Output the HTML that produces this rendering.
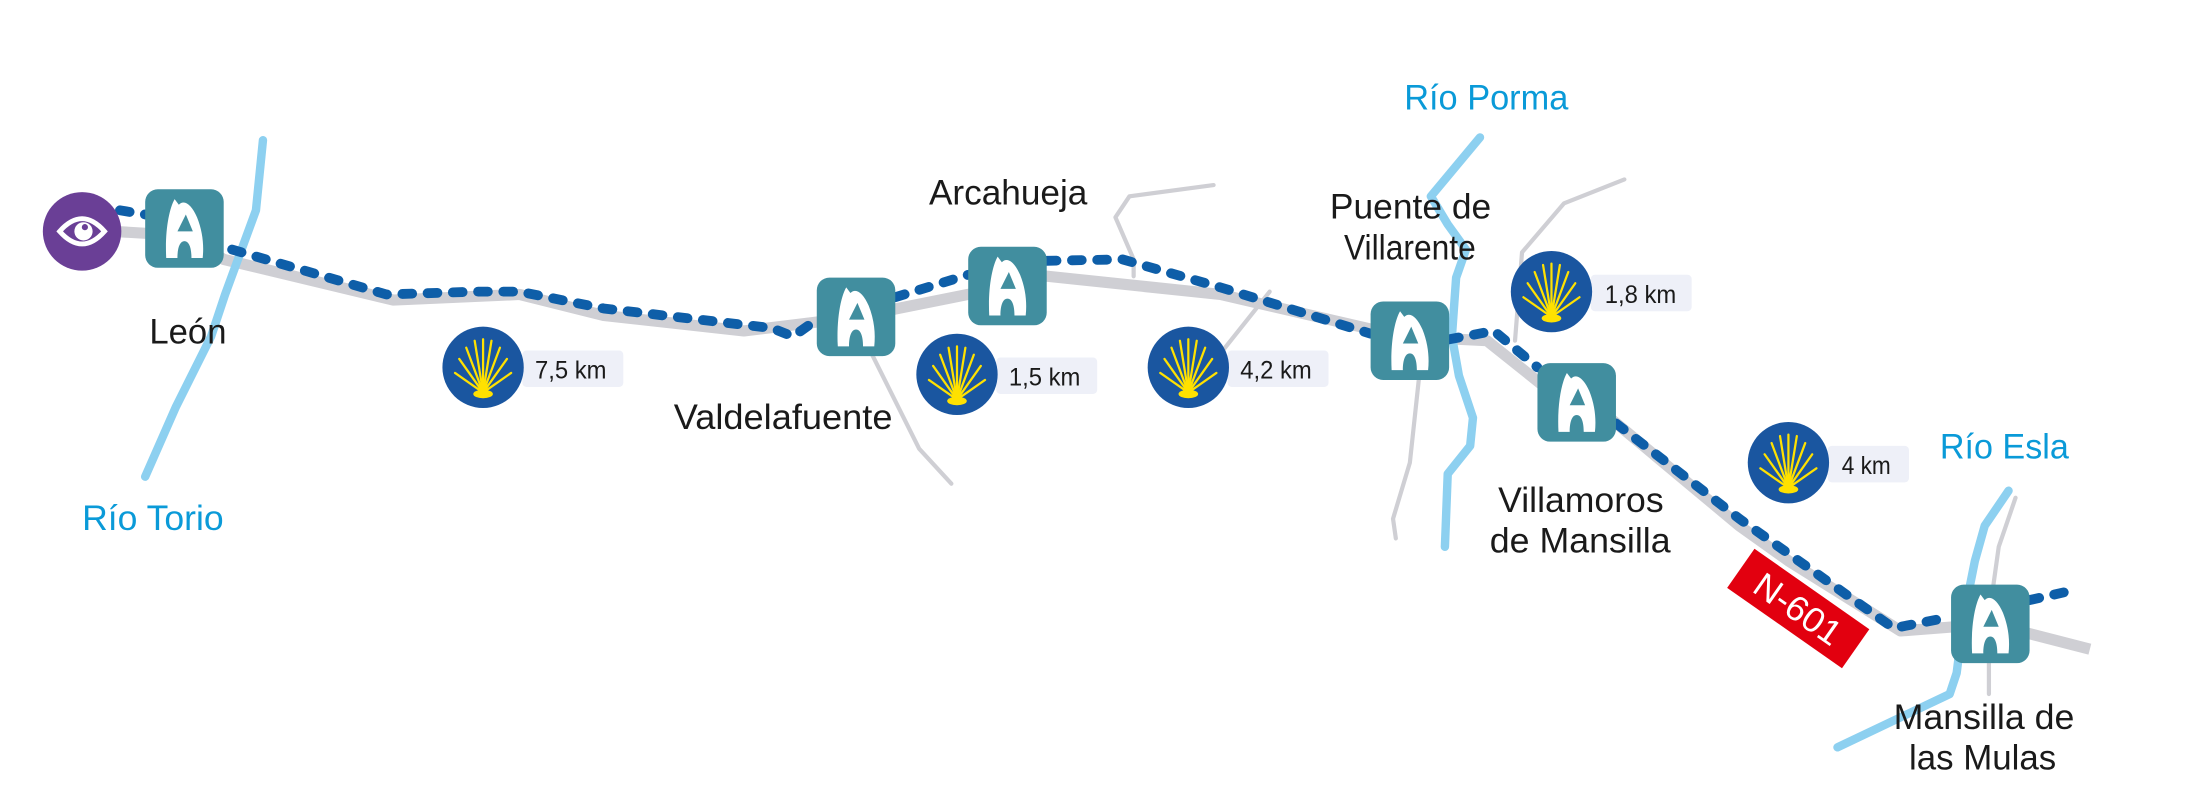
<!DOCTYPE html>
<html><head><meta charset="utf-8"><style>
html,body{margin:0;padding:0;background:#fff;width:2200px;height:809px;overflow:hidden}
svg{display:block}
text{font-family:"Liberation Sans Narrow","Liberation Sans",sans-serif}
</style></head><body>
<svg width="2200" height="809" viewBox="0 0 1568 577" xmlns="http://www.w3.org/2000/svg">
<defs>
<g id="shell">
<circle r="29" fill="#1a56a0"/>
<g stroke="#ffe100" stroke-width="1.6" fill="none" stroke-linecap="round">
<line x1="0" y1="18" x2="0" y2="-20"/>
<line x1="0" y1="18" x2="-6" y2="-19"/>
<line x1="0" y1="18" x2="6" y2="-19"/>
<line x1="0" y1="18" x2="-12" y2="-14"/>
<line x1="0" y1="18" x2="12" y2="-14"/>
<line x1="0" y1="18" x2="-17" y2="-6"/>
<line x1="0" y1="18" x2="17" y2="-6"/>
<line x1="0" y1="18" x2="-20" y2="4"/>
<line x1="0" y1="18" x2="20" y2="4"/>
</g>
<ellipse cx="0" cy="19" rx="7" ry="3" fill="#ffe100"/>
</g>
<g id="hut">
<rect x="-28" y="-28" width="56" height="56" rx="9" fill="#418e9f"/>
<path d="M-13,21 C-14,2 -11,-14 -7,-21 L-4,-17 C0,-21 5,-17 9,-8 C13,2 14,12 13,21 L5,21 C5,13 3,9 0,9 C-3,9 -5,13 -5,21 Z" fill="#fff"/>
<path d="M-5,2 L1,-10 L6,2 Z" fill="#418e9f"/>
</g>
</defs>

<!-- minor roads -->
<g stroke="#cfcfd4" stroke-width="3" fill="none" stroke-linecap="round" stroke-linejoin="round">
<polyline points="620,250 655,320 678,345"/>
<polyline points="808,197 808,185 795,155 805,140 865,132"/>
<polyline points="870,252 905,208"/>
<polyline points="1012,265 1005,330 993,370 995,384"/>
<polyline points="1080,243 1085,180 1115,145 1158,128"/>
<polyline points="1437,355 1425,390 1418,440"/>
<polyline points="1418,470 1418,495"/>
</g>
<!-- main road -->
<polyline points="80,165 130,168 159,185 280,214 370,210 430,225 530,236 580,230 610,226 690,210 746,197 870,210 1000,240 1060,243 1100,275 1150,300 1240,375 1275,400 1355,450 1420,445 1490,463" stroke="#cfcfd4" stroke-width="8" fill="none" stroke-linejoin="round"/>
<!-- rivers -->
<g stroke="#8dd0f0" stroke-width="6" fill="none" stroke-linecap="round" stroke-linejoin="round">
<polyline points="187,100 182,150 160,210 150,240 125,290 103,340"/>
<polyline points="1055,98 1020,140 1032,160 1045,178 1038,198 1035,240 1040,268 1050,298 1048,318 1032,338 1030,390"/>
<polyline points="1432,350 1415,375 1408,400 1400,440 1395,480 1390,495 1310,533"/>
</g>
<!-- dashed path -->
<g stroke="#0e5ea8" stroke-width="7" fill="none" stroke-linecap="round" stroke-linejoin="round" stroke-dasharray="7 11">
<polyline points="85,150 103,153"/>
<polyline points="165,178 275,210 340,208 370,208 430,220 550,234 565,240 582,228"/>
<polyline points="638,212 690,196"/>
<polyline points="746,186 800,185 870,205 977,238"/>
<polyline points="1033,242 1065,236 1096,262"/>
<polyline points="1152,302 1240,370 1350,448 1391,440"/>
<polyline points="1447,428 1478,421"/>
</g>

<!-- eye -->
<circle cx="58" cy="165" r="28" fill="#6a3f96"/>
<path d="M42,165 Q58,147 74,165 Q58,183 42,165 Z" fill="none" stroke="#fff" stroke-width="3.5"/>
<circle cx="59" cy="165" r="6.5" fill="#fff"/>
<circle cx="60" cy="162" r="2.2" fill="#6a3f96"/>

<use href="#hut" x="131" y="163"/>
<use href="#hut" x="610" y="226"/>
<use href="#hut" x="718" y="204"/>
<use href="#hut" x="1005" y="243"/>
<use href="#hut" x="1124" y="287"/>
<use href="#hut" x="1419" y="445"/>

<!-- shells -->
<g fill="#eef0f8">
<rect x="372" y="250" width="72" height="26" rx="3"/>
<rect x="710" y="255" width="72" height="26" rx="3"/>
<rect x="875" y="250" width="72" height="26" rx="3"/>
<rect x="1134" y="196" width="72" height="26" rx="3"/>
<rect x="1303" y="318" width="58" height="26" rx="3"/>
</g>
<use href="#shell" x="344" y="262"/>
<use href="#shell" x="682" y="267"/>
<use href="#shell" x="847" y="262"/>
<use href="#shell" x="1106" y="208"/>
<use href="#shell" x="1275" y="330"/>
<g font-size="18" fill="#1a1a1a" lengthAdjust="spacingAndGlyphs">
<text x="381" y="270" textLength="51" lengthAdjust="spacingAndGlyphs">7,5 km</text>
<text x="719" y="275" textLength="51" lengthAdjust="spacingAndGlyphs">1,5 km</text>
<text x="884" y="270" textLength="51" lengthAdjust="spacingAndGlyphs">4,2 km</text>
<text x="1144" y="216" textLength="51" lengthAdjust="spacingAndGlyphs">1,8 km</text>
<text x="1313" y="338" textLength="35" lengthAdjust="spacingAndGlyphs">4 km</text>
</g>

<!-- N-601 -->
<g transform="translate(1282,434) rotate(35)">
<rect x="-50" y="-17" width="100" height="34" fill="#e2000f"/>
<text x="0" y="9" font-size="25" fill="#fff" text-anchor="middle" textLength="70" lengthAdjust="spacingAndGlyphs">N-601</text>
</g>

<g font-size="25" fill="#1a1a1a">
<text x="106" y="245" textLength="55" lengthAdjust="spacingAndGlyphs">León</text>
<text x="480" y="306" textLength="156" lengthAdjust="spacingAndGlyphs">Valdelafuente</text>
<text x="662" y="146" textLength="113" lengthAdjust="spacingAndGlyphs">Arcahueja</text>
<text x="948" y="156" textLength="115" lengthAdjust="spacingAndGlyphs">Puente de</text>
<text x="958" y="185" textLength="94" lengthAdjust="spacingAndGlyphs">Villarente</text>
<text x="1068" y="365" textLength="118" lengthAdjust="spacingAndGlyphs">Villamoros</text>
<text x="1062" y="394" textLength="129" lengthAdjust="spacingAndGlyphs">de Mansilla</text>
<text x="1350" y="520" textLength="129" lengthAdjust="spacingAndGlyphs">Mansilla de</text>
<text x="1361" y="549" textLength="105" lengthAdjust="spacingAndGlyphs">las Mulas</text>
</g>
<g font-size="25" fill="#0a9ad8">
<text x="58" y="378" textLength="101" lengthAdjust="spacingAndGlyphs">Río Torio</text>
<text x="1001" y="78" textLength="117" lengthAdjust="spacingAndGlyphs">Río Porma</text>
<text x="1383" y="327" textLength="92" lengthAdjust="spacingAndGlyphs">Río Esla</text>
</g>
</svg>
</body></html>
